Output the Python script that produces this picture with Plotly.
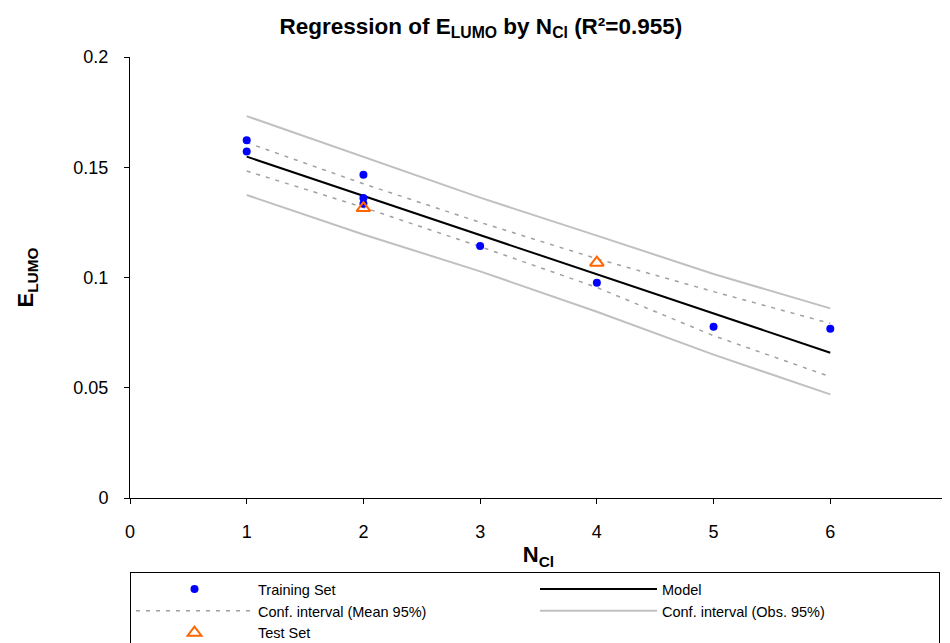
import plotly.graph_objects as go

# Training set
train_x = [1, 1, 2, 2, 2, 3, 4, 5, 6]
train_y = [0.1622, 0.1571, 0.1466, 0.1360, 0.1335, 0.1143, 0.0976, 0.0777, 0.0768]
# Test set
test_x = [2, 4]
test_y = [0.1315, 0.1067]
# Model line
model_x = [1, 6]
model_y = [0.1548, 0.0659]
# Confidence intervals
ci_x = [1, 2, 3, 4, 5, 6]
mean_up = [0.1612, 0.1425, 0.1250, 0.1085, 0.0936, 0.0792]
mean_lo = [0.1483, 0.1318, 0.1140, 0.0955, 0.0736, 0.0550]
obs_up = [0.1732, 0.1547, 0.1362, 0.1190, 0.1016, 0.0860]
obs_lo = [0.1374, 0.1195, 0.1028, 0.0845, 0.0650, 0.0470]

x_ticks = [0, 1, 2, 3, 4, 5, 6, 7]
y_ticks = [0, 0.05, 0.1, 0.15, 0.2]
y_tick_text = ["0", "0.05", "0.1", "0.15", "0.2"]

FONT = "Liberation Sans, Arial, sans-serif"
MEAN_COL = "#A0A0A0"
OBS_COL = "#C0C0C0"

fig = go.Figure()

# CIs drawn first, then model, then points; legend order via legendrank
fig.add_trace(go.Scatter(x=ci_x, y=obs_up, mode="lines", name="Conf. interval (Obs. 95%)",
                         line=dict(color=OBS_COL, width=2),
                         legendgroup="obs", legendrank=4))
fig.add_trace(go.Scatter(x=ci_x, y=obs_lo, mode="lines", name="Conf. interval (Obs. 95%)",
                         line=dict(color=OBS_COL, width=2),
                         legendgroup="obs", showlegend=False))
fig.add_trace(go.Scatter(x=ci_x, y=mean_up, mode="lines", name="Conf. interval (Mean 95%)",
                         line=dict(color=MEAN_COL, width=1.5, dash="4px,6px"),
                         legendgroup="mean", legendrank=3))
fig.add_trace(go.Scatter(x=ci_x, y=mean_lo, mode="lines", name="Conf. interval (Mean 95%)",
                         line=dict(color=MEAN_COL, width=1.5, dash="4px,6px"),
                         legendgroup="mean", showlegend=False))
fig.add_trace(go.Scatter(x=model_x, y=model_y, mode="lines", name="Model",
                         line=dict(color="black", width=2), legendrank=2))
fig.add_trace(go.Scatter(x=train_x, y=train_y, mode="markers", name="Training Set",
                         marker=dict(color="#0000FF", size=8), legendrank=1))
fig.add_trace(go.Scatter(x=test_x, y=test_y, mode="markers", name="Test Set",
                         marker=dict(symbol="triangle-up-open", color="#FF6600", size=12,
                                     line=dict(width=2, color="#FF6600")), legendrank=5))

fig.update_layout(
    width=942, height=635,
    margin=dict(l=122, r=3, t=49, b=145, autoexpand=False),
    paper_bgcolor="white", plot_bgcolor="white",
    font=dict(family=FONT, color="black", size=18),
    title=dict(text="<b>Regression of E<sub>LUMO</sub> by N<sub>Cl</sub> (R²=0.955)</b>",
               x=0.502, xanchor="center", y=0.972, yanchor="middle",
               font=dict(size=22.5, family=FONT)),
    showlegend=True,
    legend=dict(orientation="h", x=0, xanchor="left", y=-0.168, yanchor="top",
                bordercolor="black", borderwidth=1, bgcolor="white",
                font=dict(size=14.5, family=FONT),
                entrywidth=272, entrywidthmode="pixels",
                itemwidth=117, tracegroupgap=0,
                traceorder="normal"),
)

fig.update_xaxes(range=[0, 7], tickvals=x_ticks, ticks="outside", ticklen=5,
                 showline=True, linecolor="black", linewidth=1, tickcolor="black",
                 showgrid=False, zeroline=False, ticklabelstandoff=12,
                 ticklabeloverflow="allow",
                 tickfont=dict(size=18),
                 title=dict(text="<b>N<sub>Cl</sub></b>", font=dict(size=22), standoff=6))
fig.update_yaxes(range=[0, 0.2], tickvals=y_ticks, ticktext=y_tick_text, ticks="outside", ticklen=5,
                 showline=True, linecolor="black", linewidth=1, tickcolor="black",
                 showgrid=False, zeroline=False, ticklabelstandoff=12,
                 tickfont=dict(size=18),
                 title=dict(text="<b>E<sub>LUMO</sub></b>", font=dict(size=22), standoff=33))

fig.write_html("out.html")
